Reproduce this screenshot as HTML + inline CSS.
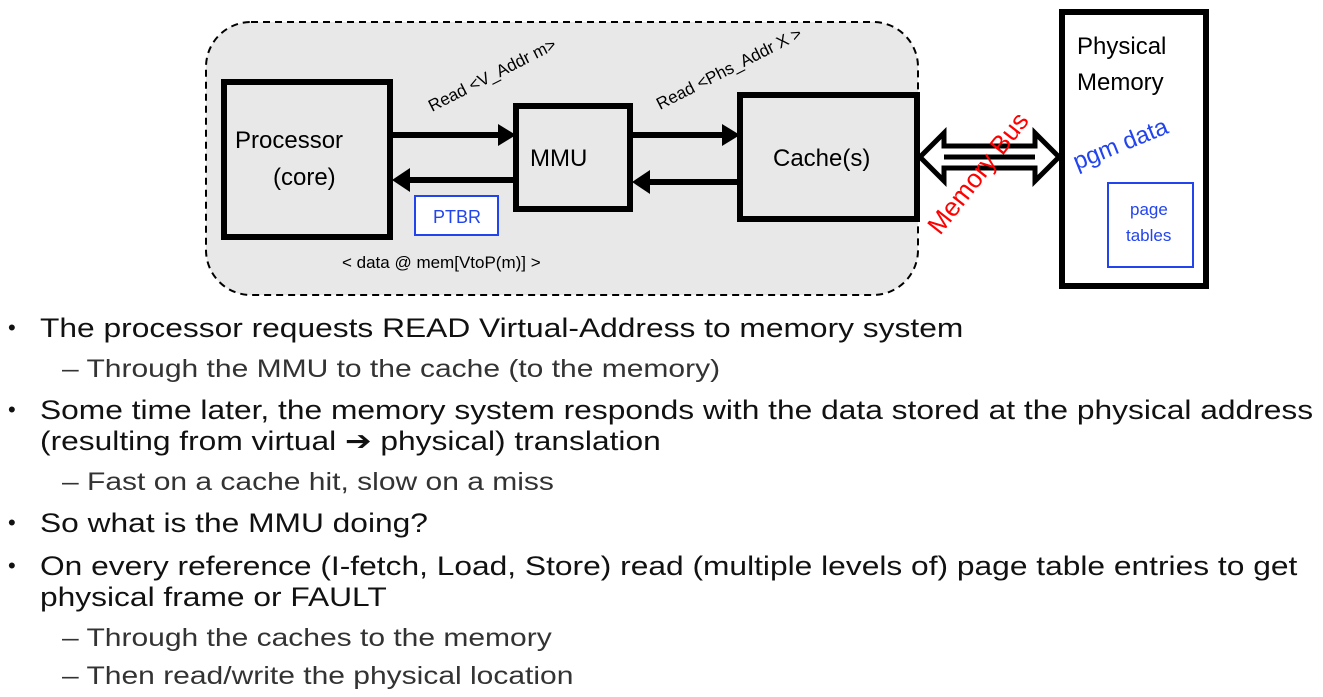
<!DOCTYPE html>
<html><head><style>
body{margin:0;width:1323px;height:697px;background:#fff;overflow:hidden;font-family:"Liberation Sans",sans-serif;}
.t{position:absolute;white-space:nowrap;color:#111;transform-origin:0 0;}
.b{font-size:27px;transform:scaleX(1.175);}
.s{font-size:25px;color:#333;transform:scaleX(1.2);}
.d{position:absolute;left:8px;font-size:22px;color:#111;}
</style></head><body>
<svg width="1323" height="300" style="position:absolute;left:0;top:0" font-family="Liberation Sans, sans-serif">
<rect x="206" y="22" width="712" height="273" rx="45" fill="#e8e8e8" stroke="#000" stroke-width="2" stroke-dasharray="7,5"/>
<rect x="224" y="82" width="166" height="155" fill="#e8e8e8" stroke="#000" stroke-width="6"/>
<rect x="516" y="106" width="114" height="103" fill="#e8e8e8" stroke="#000" stroke-width="6"/>
<rect x="740" y="95" width="177" height="124" fill="#e8e8e8" stroke="#000" stroke-width="6"/>
<rect x="1062" y="12" width="144" height="274" fill="#fff" stroke="#000" stroke-width="6"/>
<rect x="415" y="196" width="83" height="39" fill="#fff" stroke="#2244ee" stroke-width="2"/>
<rect x="1108" y="183" width="85" height="84" fill="#fff" stroke="#2244ee" stroke-width="2"/>
<g stroke="#000" stroke-width="6">
<line x1="390" y1="135" x2="500" y2="135"/>
<line x1="410" y1="180" x2="516" y2="180"/>
<line x1="630" y1="135" x2="725" y2="135"/>
<line x1="650" y1="182" x2="740" y2="182"/>
</g>
<polygon points="498,124 516,135 498,146" fill="#000"/>
<polygon points="410,168 392,180 410,192" fill="#000"/>
<polygon points="722,124 740,135 722,146" fill="#000"/>
<polygon points="650,170 632,182 650,194" fill="#000"/>
<polygon points="920,157 944,133 944,146 1035,146 1035,133 1059,157 1035,181 1035,168 944,168 944,181" fill="#fff" stroke="#000" stroke-width="5"/>
<line x1="944" y1="157" x2="1035" y2="157" stroke="#000" stroke-width="5"/>
<text x="235" y="148" font-size="24">Processor</text>
<text x="273" y="185" font-size="24">(core)</text>
<text x="530" y="166" font-size="24">MMU</text>
<text x="773" y="166" font-size="24">Cache(s)</text>
<text x="1077" y="54" font-size="24">Physical</text>
<text x="1077" y="90" font-size="24">Memory</text>
<text x="433" y="223" font-size="18" fill="#2244ee">PTBR</text>
<text x="1130" y="215" font-size="17" fill="#2244ee">page</text>
<text x="1126" y="241" font-size="17" fill="#2244ee">tables</text>
<text x="342" y="268" font-size="17">&lt; data @ mem[VtoP(m)] &gt;</text>
<text transform="translate(432,112) rotate(-27)" font-size="17">Read &lt;V_Addr m&gt;</text>
<text transform="translate(660,110) rotate(-27)" font-size="17">Read &lt;Phs_Addr X &gt;</text>
<text transform="translate(1077,170) rotate(-22)" font-size="24" fill="#2244ee">pgm data</text>
<text transform="translate(940,236) rotate(-52)" font-size="26" fill="#ff0000">Memory Bus</text>
</svg>
<div class="d" style="top:315px">•</div>
<div class="t b" style="left:40px;top:313px">The processor requests READ Virtual-Address to memory system</div>
<div class="t s" style="left:62px;top:355px">– Through the MMU to the cache (to the memory)</div>
<div class="d" style="top:397px">•</div>
<div class="t b" style="left:40px;top:395px">Some time later, the memory system responds with the data stored at the physical address</div>
<div class="t b" style="left:40px;top:426px">(resulting from virtual ➔ physical) translation</div>
<div class="t s" style="left:62px;top:468px">– Fast on a cache hit, slow on a miss</div>
<div class="d" style="top:510px">•</div>
<div class="t b" style="left:40px;top:508px">So what is the MMU doing?</div>
<div class="d" style="top:553px">•</div>
<div class="t b" style="left:40px;top:551px">On every reference (I-fetch, Load, Store) read (multiple levels of) page table entries to get</div>
<div class="t b" style="left:40px;top:582px">physical frame or FAULT</div>
<div class="t s" style="left:62px;top:624px">– Through the caches to the memory</div>
<div class="t s" style="left:62px;top:662px">– Then read/write the physical location</div>
</body></html>
